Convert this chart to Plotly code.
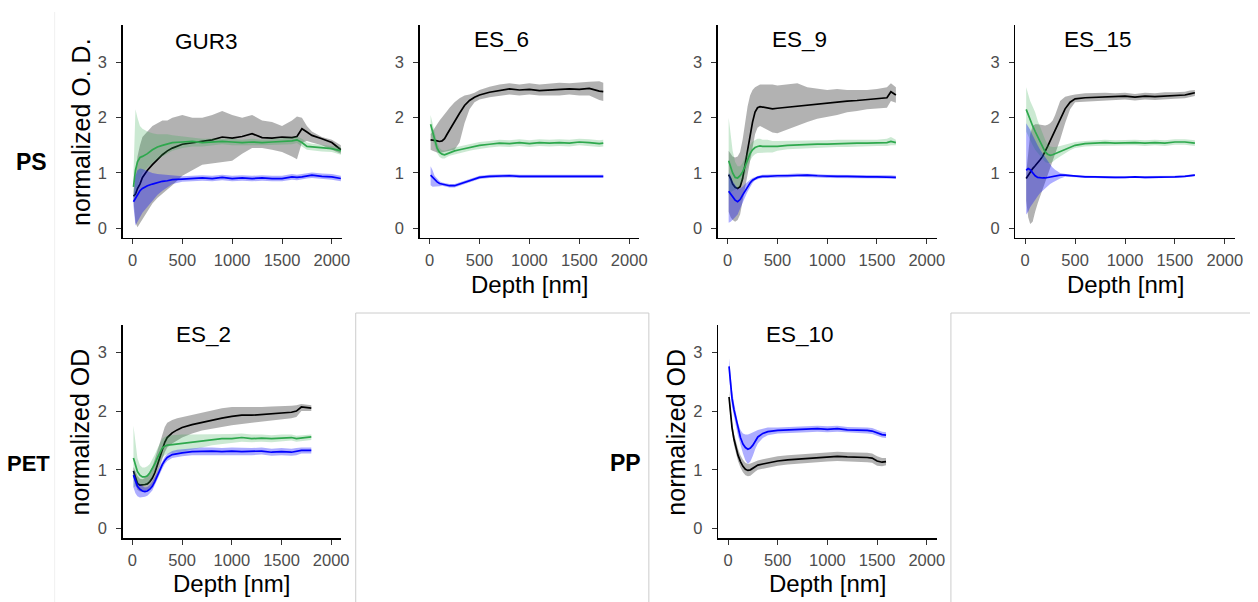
import plotly.graph_objects as go

W, H = 1258, 602

# ---------------- DATA ----------------
# Panel GUR3 (PS)
gur3_depth = [10, 30, 50, 75, 100, 150, 200, 250, 300, 350, 400, 500, 600, 700, 800, 900, 1000, 1100, 1200, 1300, 1400, 1500, 1600, 1650, 1700, 1750, 1800, 1900, 2000, 2090]
gur3_black = [0.58, 0.62, 0.72, 0.80, 0.92, 1.05, 1.15, 1.25, 1.33, 1.40, 1.45, 1.52, 1.55, 1.58, 1.60, 1.65, 1.63, 1.66, 1.71, 1.64, 1.63, 1.65, 1.64, 1.66, 1.80, 1.74, 1.68, 1.62, 1.55, 1.42]
gur3_black_hi = [0.65, 1.00, 1.30, 1.50, 1.65, 1.75, 1.85, 1.90, 1.95, 1.95, 2.00, 2.05, 2.00, 2.00, 2.05, 2.12, 2.05, 2.00, 2.05, 1.95, 1.92, 1.85, 1.95, 2.02, 2.00, 1.85, 1.75, 1.65, 1.60, 1.50]
gur3_black_lo = [0.50, 0.10, 0.02, 0.08, 0.15, 0.30, 0.45, 0.55, 0.62, 0.70, 0.78, 0.95, 1.05, 1.15, 1.18, 1.20, 1.22, 1.35, 1.45, 1.45, 1.42, 1.38, 1.30, 1.25, 1.55, 1.58, 1.55, 1.50, 1.42, 1.35]
gur3_green = [0.75, 1.05, 1.20, 1.28, 1.30, 1.35, 1.42, 1.47, 1.50, 1.53, 1.55, 1.56, 1.57, 1.55, 1.56, 1.57, 1.56, 1.55, 1.56, 1.55, 1.56, 1.57, 1.58, 1.60, 1.55, 1.48, 1.47, 1.45, 1.44, 1.40]
gur3_green_hi = [1.00, 2.15, 2.00, 1.85, 1.80, 1.75, 1.72, 1.70, 1.70, 1.70, 1.68, 1.66, 1.65, 1.62, 1.62, 1.62, 1.62, 1.60, 1.62, 1.60, 1.62, 1.63, 1.64, 1.66, 1.62, 1.55, 1.53, 1.51, 1.50, 1.47]
gur3_green_lo = [0.55, 0.60, 0.75, 0.90, 1.00, 1.10, 1.18, 1.25, 1.30, 1.35, 1.40, 1.45, 1.48, 1.48, 1.50, 1.52, 1.50, 1.50, 1.50, 1.50, 1.50, 1.51, 1.52, 1.54, 1.48, 1.42, 1.41, 1.39, 1.38, 1.33]
gur3_blue = [0.48, 0.55, 0.62, 0.68, 0.72, 0.77, 0.80, 0.83, 0.85, 0.86, 0.88, 0.89, 0.90, 0.91, 0.90, 0.92, 0.90, 0.91, 0.90, 0.91, 0.90, 0.90, 0.93, 0.92, 0.93, 0.95, 0.96, 0.94, 0.93, 0.90]
gur3_blue_hi = [0.55, 0.95, 1.05, 1.08, 1.07, 1.03, 1.00, 0.98, 0.97, 0.96, 0.96, 0.94, 0.95, 0.96, 0.95, 0.97, 0.95, 0.96, 0.95, 0.96, 0.95, 0.95, 0.98, 0.97, 0.98, 1.00, 1.01, 0.99, 0.98, 0.95]
gur3_blue_lo = [0.40, 0.05, 0.10, 0.20, 0.28, 0.40, 0.50, 0.60, 0.68, 0.74, 0.80, 0.84, 0.85, 0.86, 0.85, 0.87, 0.85, 0.86, 0.85, 0.86, 0.85, 0.85, 0.88, 0.87, 0.88, 0.90, 0.91, 0.89, 0.88, 0.85]

# Panel ES_6 (PS)
es6_depth = [10, 30, 50, 75, 100, 125, 150, 175, 200, 250, 300, 350, 400, 450, 500, 600, 700, 800, 900, 1000, 1100, 1200, 1300, 1400, 1500, 1600, 1700, 1740]
es6_black = [1.60, 1.60, 1.59, 1.58, 1.57, 1.58, 1.62, 1.70, 1.78, 1.92, 2.08, 2.22, 2.31, 2.37, 2.41, 2.46, 2.49, 2.52, 2.50, 2.51, 2.49, 2.50, 2.50, 2.52, 2.51, 2.53, 2.48, 2.47]
es6_black_hi = [1.70, 1.75, 1.80, 1.88, 1.95, 2.00, 2.05, 2.12, 2.18, 2.28, 2.35, 2.40, 2.42, 2.45, 2.50, 2.56, 2.60, 2.62, 2.60, 2.62, 2.60, 2.62, 2.63, 2.62, 2.64, 2.65, 2.66, 2.63]
es6_black_lo = [1.42, 1.40, 1.38, 1.37, 1.36, 1.37, 1.38, 1.39, 1.40, 1.42, 1.55, 1.90, 2.15, 2.28, 2.33, 2.37, 2.40, 2.42, 2.40, 2.42, 2.40, 2.40, 2.40, 2.42, 2.40, 2.40, 2.32, 2.30]
es6_green = [1.88, 1.75, 1.60, 1.45, 1.37, 1.34, 1.33, 1.35, 1.37, 1.40, 1.42, 1.44, 1.46, 1.48, 1.50, 1.52, 1.54, 1.53, 1.55, 1.53, 1.55, 1.54, 1.55, 1.54, 1.56, 1.55, 1.53, 1.54]
es6_green_hi = [2.05, 1.90, 1.72, 1.55, 1.45, 1.41, 1.40, 1.41, 1.43, 1.46, 1.48, 1.50, 1.52, 1.54, 1.56, 1.58, 1.60, 1.59, 1.61, 1.59, 1.61, 1.60, 1.61, 1.60, 1.62, 1.61, 1.59, 1.60]
es6_green_lo = [1.70, 1.60, 1.48, 1.36, 1.29, 1.26, 1.26, 1.29, 1.31, 1.34, 1.36, 1.38, 1.40, 1.42, 1.44, 1.46, 1.48, 1.47, 1.49, 1.47, 1.49, 1.48, 1.49, 1.48, 1.50, 1.49, 1.47, 1.48]
es6_blue = [0.96, 0.92, 0.87, 0.84, 0.81, 0.80, 0.79, 0.78, 0.77, 0.77, 0.80, 0.83, 0.86, 0.89, 0.92, 0.94, 0.95, 0.95, 0.94, 0.94, 0.93, 0.94, 0.93, 0.94, 0.93, 0.93, 0.94, 0.94]
es6_blue_hi = [1.12, 1.05, 0.95, 0.90, 0.85, 0.83, 0.82, 0.81, 0.80, 0.80, 0.83, 0.86, 0.89, 0.92, 0.95, 0.97, 0.98, 0.98, 0.97, 0.97, 0.96, 0.97, 0.96, 0.97, 0.96, 0.96, 0.97, 0.97]
es6_blue_lo = [0.78, 0.75, 0.75, 0.76, 0.76, 0.77, 0.76, 0.75, 0.74, 0.74, 0.77, 0.80, 0.83, 0.86, 0.89, 0.91, 0.92, 0.92, 0.91, 0.91, 0.90, 0.91, 0.90, 0.91, 0.90, 0.90, 0.91, 0.91]

# Panel ES_9 (PS)
es9_depth = [10, 30, 50, 75, 100, 125, 150, 175, 200, 225, 250, 275, 300, 325, 350, 400, 450, 500, 600, 700, 800, 900, 1000, 1100, 1200, 1300, 1400, 1500, 1600, 1640, 1690]
es9_black = [0.97, 0.90, 0.80, 0.74, 0.72, 0.75, 0.90, 1.15, 1.45, 1.70, 1.92, 2.10, 2.18, 2.20, 2.19, 2.17, 2.16, 2.17, 2.19, 2.20, 2.23, 2.24, 2.26, 2.28, 2.30, 2.31, 2.33, 2.34, 2.36, 2.47, 2.41]
es9_black_hi = [1.40, 1.35, 1.30, 1.28, 1.30, 1.38, 1.60, 1.90, 2.20, 2.40, 2.50, 2.55, 2.58, 2.60, 2.60, 2.60, 2.60, 2.58, 2.60, 2.62, 2.55, 2.52, 2.50, 2.52, 2.50, 2.50, 2.50, 2.52, 2.55, 2.62, 2.55]
es9_black_lo = [0.30, 0.20, 0.15, 0.12, 0.15, 0.25, 0.45, 0.70, 0.95, 1.20, 1.45, 1.70, 1.82, 1.85, 1.82, 1.78, 1.73, 1.72, 1.78, 1.85, 1.92, 1.98, 2.02, 2.05, 2.10, 2.12, 2.15, 2.17, 2.18, 2.30, 2.27]
es9_green = [1.22, 1.12, 1.00, 0.92, 0.91, 0.95, 1.02, 1.12, 1.25, 1.35, 1.42, 1.46, 1.48, 1.49, 1.48, 1.48, 1.47, 1.48, 1.50, 1.51, 1.51, 1.52, 1.52, 1.53, 1.53, 1.54, 1.54, 1.54, 1.55, 1.57, 1.55]
es9_green_hi = [2.00, 1.70, 1.40, 1.20, 1.12, 1.12, 1.18, 1.28, 1.40, 1.50, 1.57, 1.60, 1.62, 1.62, 1.60, 1.60, 1.58, 1.58, 1.58, 1.59, 1.58, 1.59, 1.59, 1.60, 1.60, 1.60, 1.60, 1.60, 1.62, 1.65, 1.60]
es9_green_lo = [0.60, 0.65, 0.68, 0.70, 0.72, 0.78, 0.86, 0.96, 1.10, 1.22, 1.30, 1.34, 1.36, 1.37, 1.37, 1.37, 1.37, 1.40, 1.43, 1.44, 1.45, 1.46, 1.46, 1.47, 1.47, 1.48, 1.48, 1.49, 1.49, 1.50, 1.50]
es9_blue = [0.67, 0.62, 0.56, 0.51, 0.48, 0.52, 0.60, 0.68, 0.76, 0.82, 0.87, 0.90, 0.92, 0.93, 0.94, 0.94, 0.95, 0.95, 0.95, 0.96, 0.96, 0.95, 0.94, 0.94, 0.94, 0.93, 0.93, 0.93, 0.93, 0.93, 0.92]
es9_blue_hi = [1.00, 0.95, 0.85, 0.78, 0.72, 0.72, 0.75, 0.80, 0.85, 0.88, 0.91, 0.93, 0.95, 0.96, 0.97, 0.97, 0.98, 0.98, 0.98, 0.99, 0.99, 0.98, 0.97, 0.97, 0.97, 0.96, 0.96, 0.96, 0.96, 0.96, 0.95]
es9_blue_lo = [0.10, 0.12, 0.15, 0.20, 0.25, 0.33, 0.45, 0.56, 0.66, 0.75, 0.82, 0.87, 0.89, 0.90, 0.91, 0.91, 0.92, 0.92, 0.92, 0.93, 0.93, 0.92, 0.91, 0.91, 0.91, 0.90, 0.90, 0.90, 0.90, 0.90, 0.89]

# Panel ES_15 (PS)
es15_depth = [10, 30, 50, 75, 100, 125, 150, 175, 200, 225, 250, 275, 300, 350, 400, 450, 500, 600, 700, 800, 900, 1000, 1100, 1200, 1300, 1400, 1500, 1600, 1650, 1700]
es15_black = [0.90, 0.96, 1.02, 1.08, 1.13, 1.18, 1.24, 1.30, 1.38, 1.48, 1.58, 1.68, 1.78, 1.98, 2.16, 2.28, 2.34, 2.36, 2.37, 2.38, 2.38, 2.39, 2.37, 2.39, 2.38, 2.39, 2.40, 2.41, 2.43, 2.45]
es15_black_hi = [1.00, 1.40, 1.70, 1.85, 1.88, 1.88, 1.87, 1.86, 1.86, 1.87, 1.90, 1.95, 2.05, 2.30, 2.38, 2.40, 2.42, 2.44, 2.45, 2.45, 2.44, 2.45, 2.43, 2.45, 2.44, 2.46, 2.46, 2.47, 2.49, 2.50]
es15_black_lo = [0.50, 0.20, 0.08, 0.12, 0.30, 0.45, 0.60, 0.72, 0.85, 0.97, 1.10, 1.22, 1.35, 1.60, 1.90, 2.15, 2.28, 2.30, 2.31, 2.32, 2.32, 2.33, 2.31, 2.33, 2.32, 2.33, 2.34, 2.35, 2.37, 2.39]
es15_green = [2.15, 2.05, 1.95, 1.85, 1.75, 1.65, 1.55, 1.46, 1.38, 1.34, 1.32, 1.33, 1.35, 1.39, 1.43, 1.47, 1.50, 1.53, 1.54, 1.55, 1.54, 1.55, 1.55, 1.54, 1.55, 1.54, 1.56, 1.56, 1.55, 1.54]
es15_green_hi = [2.55, 2.40, 2.30, 2.20, 2.10, 1.95, 1.82, 1.70, 1.60, 1.52, 1.48, 1.47, 1.47, 1.49, 1.51, 1.54, 1.56, 1.58, 1.59, 1.60, 1.59, 1.60, 1.60, 1.59, 1.60, 1.59, 1.61, 1.61, 1.60, 1.59]
es15_green_lo = [1.75, 1.70, 1.60, 1.50, 1.42, 1.35, 1.30, 1.25, 1.20, 1.18, 1.18, 1.20, 1.24, 1.30, 1.36, 1.41, 1.45, 1.48, 1.49, 1.50, 1.49, 1.50, 1.50, 1.49, 1.50, 1.49, 1.51, 1.51, 1.50, 1.49]
es15_blue = [1.05, 1.08, 1.06, 1.00, 0.95, 0.92, 0.91, 0.91, 0.91, 0.92, 0.92, 0.93, 0.94, 0.96, 0.96, 0.95, 0.94, 0.93, 0.93, 0.92, 0.92, 0.92, 0.93, 0.92, 0.92, 0.93, 0.93, 0.94, 0.95, 0.96]
es15_blue_hi = [1.90, 1.85, 1.78, 1.68, 1.58, 1.50, 1.42, 1.35, 1.28, 1.22, 1.16, 1.10, 1.06, 1.00, 0.98, 0.97, 0.96, 0.95, 0.95, 0.94, 0.94, 0.94, 0.95, 0.94, 0.94, 0.95, 0.95, 0.96, 0.97, 0.98]
es15_blue_lo = [0.25, 0.30, 0.38, 0.45, 0.52, 0.58, 0.64, 0.68, 0.72, 0.76, 0.80, 0.83, 0.86, 0.90, 0.93, 0.93, 0.92, 0.91, 0.91, 0.90, 0.90, 0.90, 0.91, 0.90, 0.90, 0.91, 0.91, 0.92, 0.93, 0.94]

# Panel ES_2 (PET)
es2_depth = [10, 30, 50, 75, 100, 125, 150, 175, 200, 225, 250, 275, 300, 325, 350, 400, 450, 500, 600, 700, 800, 900, 1000, 1100, 1200, 1300, 1400, 1500, 1600, 1650, 1700, 1800]
es2_black = [0.98, 0.85, 0.77, 0.74, 0.74, 0.75, 0.76, 0.80, 0.86, 0.95, 1.08, 1.22, 1.36, 1.47, 1.55, 1.63, 1.68, 1.72, 1.77, 1.81, 1.85, 1.88, 1.91, 1.93, 1.93, 1.94, 1.96, 1.97, 1.98, 2.00, 2.07, 2.05]
es2_black_hi = [1.05, 0.98, 0.90, 0.85, 0.84, 0.86, 0.90, 0.96, 1.05, 1.18, 1.32, 1.48, 1.62, 1.73, 1.80, 1.85, 1.88, 1.90, 1.93, 1.97, 2.02, 2.05, 2.07, 2.07, 2.06, 2.07, 2.08, 2.08, 2.09, 2.10, 2.12, 2.10]
es2_black_lo = [0.90, 0.75, 0.66, 0.63, 0.63, 0.64, 0.65, 0.68, 0.72, 0.80, 0.92, 1.05, 1.18, 1.30, 1.38, 1.45, 1.50, 1.55, 1.62, 1.67, 1.70, 1.73, 1.76, 1.79, 1.80, 1.82, 1.84, 1.86, 1.88, 1.90, 2.00, 2.00]
es2_green = [1.20, 1.07, 0.97, 0.91, 0.88, 0.88, 0.90, 0.95, 1.02, 1.10, 1.20, 1.30, 1.37, 1.40, 1.42, 1.43, 1.44, 1.45, 1.47, 1.49, 1.51, 1.53, 1.53, 1.55, 1.53, 1.54, 1.53, 1.54, 1.55, 1.53, 1.54, 1.56]
es2_green_hi = [1.75, 1.45, 1.20, 1.08, 1.04, 1.04, 1.06, 1.10, 1.17, 1.26, 1.36, 1.46, 1.53, 1.56, 1.58, 1.59, 1.60, 1.60, 1.60, 1.60, 1.60, 1.61, 1.61, 1.62, 1.60, 1.60, 1.59, 1.60, 1.60, 1.58, 1.59, 1.60]
es2_green_lo = [0.70, 0.72, 0.74, 0.75, 0.74, 0.73, 0.74, 0.78, 0.86, 0.95, 1.05, 1.14, 1.21, 1.25, 1.27, 1.29, 1.30, 1.31, 1.34, 1.38, 1.42, 1.45, 1.46, 1.48, 1.47, 1.48, 1.47, 1.48, 1.50, 1.48, 1.49, 1.51]
es2_blue = [0.91, 0.80, 0.72, 0.67, 0.64, 0.63, 0.64, 0.67, 0.72, 0.80, 0.90, 1.00, 1.09, 1.16, 1.21, 1.26, 1.28, 1.29, 1.31, 1.32, 1.32, 1.31, 1.32, 1.31, 1.31, 1.32, 1.30, 1.31, 1.30, 1.31, 1.33, 1.33]
es2_blue_hi = [1.00, 0.90, 0.80, 0.75, 0.72, 0.70, 0.71, 0.74, 0.80, 0.87, 0.96, 1.06, 1.15, 1.22, 1.27, 1.32, 1.34, 1.35, 1.37, 1.38, 1.38, 1.37, 1.38, 1.37, 1.37, 1.38, 1.36, 1.37, 1.36, 1.37, 1.38, 1.38]
es2_blue_lo = [0.70, 0.60, 0.55, 0.53, 0.53, 0.54, 0.56, 0.60, 0.65, 0.73, 0.83, 0.93, 1.02, 1.10, 1.15, 1.20, 1.22, 1.23, 1.25, 1.26, 1.26, 1.25, 1.26, 1.25, 1.25, 1.26, 1.24, 1.25, 1.24, 1.25, 1.28, 1.28]

# Panel ES_10 (PP)
es10_depth = [10, 25, 40, 60, 80, 100, 125, 150, 175, 200, 225, 250, 275, 300, 350, 400, 500, 600, 700, 800, 900, 1000, 1100, 1200, 1300, 1400, 1450, 1500, 1550, 1590]
es10_blue = [2.76, 2.45, 2.22, 2.02, 1.86, 1.70, 1.55, 1.44, 1.38, 1.35, 1.37, 1.42, 1.50, 1.56, 1.62, 1.65, 1.67, 1.68, 1.68, 1.69, 1.70, 1.69, 1.70, 1.68, 1.68, 1.67, 1.66, 1.63, 1.60, 1.59]
es10_blue_hi = [2.90, 2.60, 2.36, 2.14, 1.96, 1.80, 1.68, 1.62, 1.60, 1.60, 1.62, 1.64, 1.66, 1.68, 1.70, 1.72, 1.72, 1.73, 1.73, 1.74, 1.75, 1.74, 1.75, 1.73, 1.73, 1.72, 1.71, 1.68, 1.65, 1.64]
es10_blue_lo = [2.62, 2.30, 2.08, 1.90, 1.74, 1.58, 1.42, 1.28, 1.16, 1.10, 1.14, 1.24, 1.36, 1.45, 1.54, 1.59, 1.62, 1.63, 1.63, 1.64, 1.65, 1.64, 1.65, 1.63, 1.63, 1.62, 1.61, 1.58, 1.55, 1.54]
es10_black = [2.24, 1.95, 1.72, 1.52, 1.37, 1.25, 1.14, 1.06, 1.01, 0.99, 1.00, 1.03, 1.06, 1.08, 1.10, 1.12, 1.15, 1.17, 1.18, 1.20, 1.21, 1.22, 1.23, 1.22, 1.22, 1.21, 1.20, 1.15, 1.13, 1.14]
es10_black_hi = [2.34, 2.05, 1.82, 1.62, 1.47, 1.36, 1.25, 1.17, 1.12, 1.10, 1.11, 1.13, 1.15, 1.16, 1.18, 1.20, 1.23, 1.25, 1.26, 1.28, 1.29, 1.30, 1.31, 1.30, 1.30, 1.29, 1.28, 1.23, 1.20, 1.20]
es10_black_lo = [2.14, 1.85, 1.62, 1.42, 1.27, 1.15, 1.04, 0.96, 0.91, 0.89, 0.90, 0.93, 0.97, 1.00, 1.02, 1.04, 1.07, 1.09, 1.10, 1.12, 1.13, 1.14, 1.15, 1.14, 1.14, 1.13, 1.12, 1.07, 1.06, 1.08]

panel_titles = ["GUR3", "ES_6", "ES_9", "ES_15", "ES_2", "ES_10"]
row_labels = ["PS", "PET", "PP"]
x_ticks = [0, 500, 1000, 1500, 2000]
y_ticks = [0, 1, 2, 3]

# ---------------- STYLE ----------------
FONT = "Liberation Sans, Arial, Helvetica, sans-serif"
BLACK = "#000000"
GREEN = "#2ea84d"
BLUE = "#0000ff"
FILL = {BLACK: "rgba(0,0,0,0.30)", GREEN: "rgba(46,168,77,0.25)", BLUE: "rgba(0,0,255,0.32)"}

fig = go.Figure()

# panel geometry in pixels: (left, right, top, bottom)
panels = [
    dict(px=(123.3, 344.0, 25, 238), yr=[-0.175, 3.675]),
    dict(px=(422.3, 643.3, 25, 238), yr=[-0.175, 3.675]),
    dict(px=(722.3, 942.7, 25, 238), yr=[-0.175, 3.675]),
    dict(px=(1021.7, 1242.7, 25, 238), yr=[-0.175, 3.675]),
    dict(px=(123.3, 343.3, 325, 538.3), yr=[-0.165, 3.465]),
    dict(px=(722.7, 942.7, 325, 538.3), yr=[-0.165, 3.465]),
]

panel_series = [
    (gur3_depth, [(BLACK, gur3_black, gur3_black_lo, gur3_black_hi),
                  (GREEN, gur3_green, gur3_green_lo, gur3_green_hi),
                  (BLUE, gur3_blue, gur3_blue_lo, gur3_blue_hi)]),
    (es6_depth, [(BLACK, es6_black, es6_black_lo, es6_black_hi),
                 (GREEN, es6_green, es6_green_lo, es6_green_hi),
                 (BLUE, es6_blue, es6_blue_lo, es6_blue_hi)]),
    (es9_depth, [(BLACK, es9_black, es9_black_lo, es9_black_hi),
                 (GREEN, es9_green, es9_green_lo, es9_green_hi),
                 (BLUE, es9_blue, es9_blue_lo, es9_blue_hi)]),
    (es15_depth, [(BLACK, es15_black, es15_black_lo, es15_black_hi),
                  (GREEN, es15_green, es15_green_lo, es15_green_hi),
                  (BLUE, es15_blue, es15_blue_lo, es15_blue_hi)]),
    (es2_depth, [(BLACK, es2_black, es2_black_lo, es2_black_hi),
                 (GREEN, es2_green, es2_green_lo, es2_green_hi),
                 (BLUE, es2_blue, es2_blue_lo, es2_blue_hi)]),
    (es10_depth, [(BLACK, es10_black, es10_black_lo, es10_black_hi),
                  (BLUE, es10_blue, es10_blue_lo, es10_blue_hi)]),
]

layout_axes = {}
for i, (p, (depth, series)) in enumerate(zip(panels, panel_series)):
    n = i + 1
    xa = "x" if n == 1 else f"x{n}"
    ya = "y" if n == 1 else f"y{n}"
    for color, mean, lo, hi in series:
        fig.add_trace(go.Scatter(
            x=list(depth) + list(depth)[::-1], y=list(hi) + list(lo)[::-1],
            fill="toself", fillcolor=FILL[color], line=dict(width=0),
            mode="lines", hoverinfo="skip", showlegend=False, xaxis=xa, yaxis=ya))
        fig.add_trace(go.Scatter(
            x=depth, y=mean, mode="lines", line=dict(color=color, width=1.7),
            showlegend=False, xaxis=xa, yaxis=ya))
    l, r, t, b = p["px"]
    common = dict(showline=True, linecolor="black", linewidth=1.3, ticks="outside",
                  ticklen=5, tickwidth=1, tickcolor="#333333", showgrid=False,
                  zeroline=False, fixedrange=True,
                  tickfont=dict(family=FONT, size=16.5, color="#4d4d4d"))
    xkey = "xaxis" if n == 1 else f"xaxis{n}"
    ykey = "yaxis" if n == 1 else f"yaxis{n}"
    layout_axes[xkey] = dict(common, domain=[l / W, r / W], range=[-100, 2100],
                             tickvals=x_ticks, anchor=ya, ticklabelstandoff=2)
    layout_axes[ykey] = dict(common, domain=[1 - b / H, 1 - t / H], range=p["yr"],
                             tickvals=y_ticks, anchor=xa, ticklabelstandoff=6)

fig.update_layout(**layout_axes)

ann = []
def text(x, y, s, size, color="black", bold=False, angle=0):
    ann.append(dict(x=x / W, y=1 - y / H, xref="paper", yref="paper", text=(f"<b>{s}</b>" if bold else s),
                    showarrow=False, xanchor="center", yanchor="middle", textangle=angle,
                    font=dict(family=FONT, size=size, color=color)))

# panel titles
title_pos = [(207.5, 41), (505, 39), (805, 39), (1105, 39), (205, 334), (805, 334)]
for (x, y), s in zip(title_pos, panel_titles):
    text(x, y, s, 22.5)
# row labels
text(32, 162, row_labels[0], 23, bold=True)
text(29, 463, row_labels[1], 22, bold=True)
text(630, 463, row_labels[2], 23, bold=True)
# axis titles
text(82, 131.5, "normalized O. D.", 25, angle=-90)
text(81, 432, "normalized OD", 25, angle=-90)
text(680, 432, "normalized OD", 25, angle=-90)
for x in [532.8, 1132.2]:
    text(x, 284, "Depth [nm]", 24)
for x in [233.3, 832.7]:
    text(x, 583, "Depth [nm]", 24)

shapes = []
def seg(x0, y0, x1, y1, color="#cccccc"):
    shapes.append(dict(type="line", xref="paper", yref="paper", x0=x0 / W, y0=1 - y0 / H,
                       x1=x1 / W, y1=1 - y1 / H, line=dict(color=color, width=1)))

seg(55, 12, 55, 602, "#f0f0f0")
seg(358, 313, 653, 313)
seg(358, 313, 358, 602)
seg(653, 313, 653, 602)
seg(957, 313, 1258, 313)
seg(957, 313, 957, 602)

fig.update_layout(width=W, height=H, margin=dict(l=0, r=0, t=0, b=0),
                  paper_bgcolor="white", plot_bgcolor="white",
                  annotations=ann, shapes=shapes, showlegend=False,
                  font=dict(family=FONT))
fig.write_html("out.html", config={"displayModeBar": False, "staticPlot": True},
               post_script="document.body.style.margin='0';document.body.style.padding='0';document.body.style.overflow='hidden';")
